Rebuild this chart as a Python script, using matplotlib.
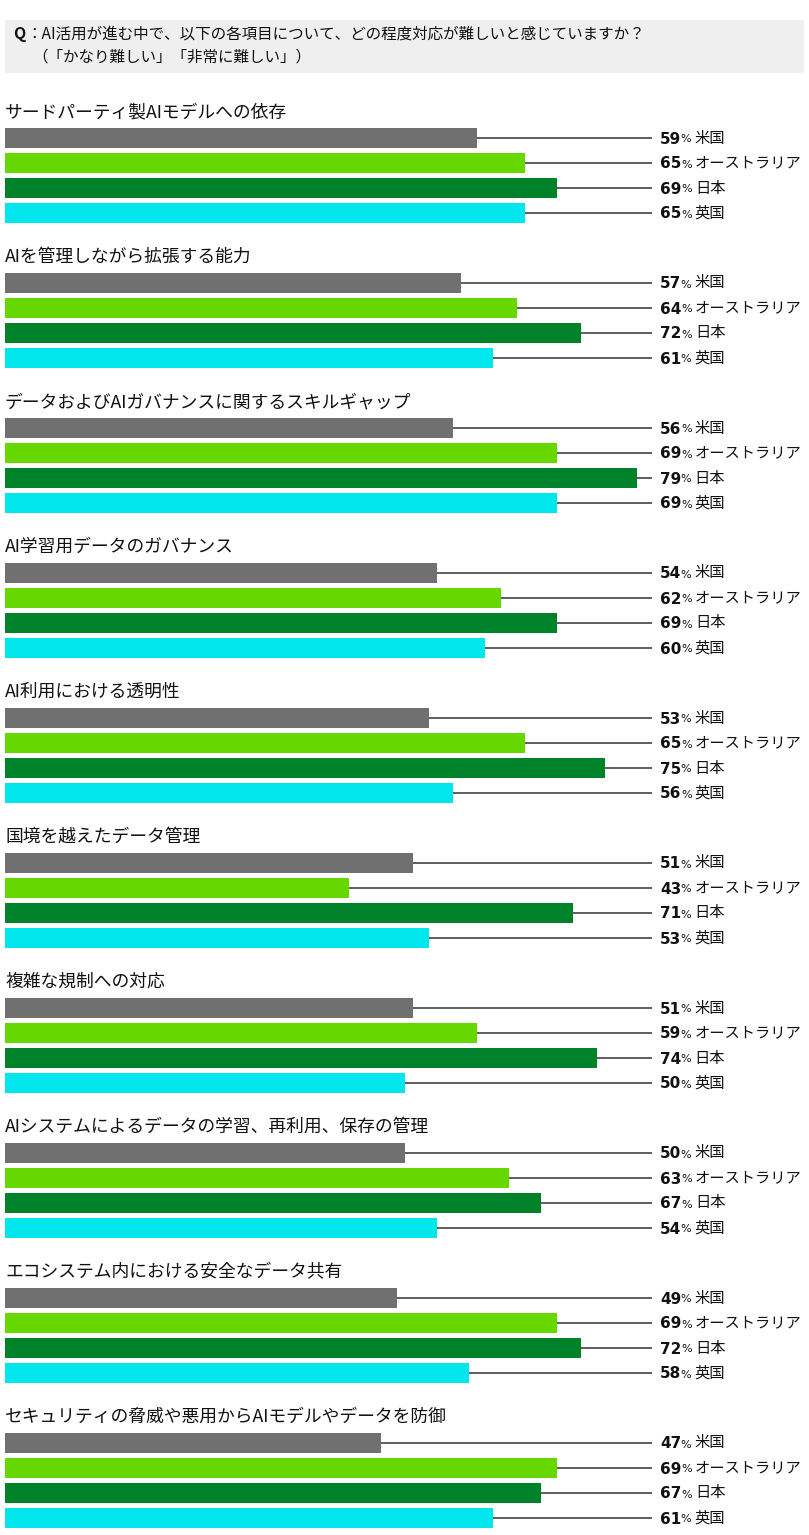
import matplotlib.pyplot as plt
from matplotlib.patches import Rectangle

plt.rcParams['font.family'] = ['Noto Sans CJK JP', 'DejaVu Sans']

# data
items = [
    "サードパーティ製AIモデルへの依存",
    "AIを管理しながら拡張する能力",
    "データおよびAIガバナンスに関するスキルギャップ",
    "AI学習用データのガバナンス",
    "AI利用における透明性",
    "国境を越えたデータ管理",
    "複雑な規制への対応",
    "AIシステムによるデータの学習、再利用、保存の管理",
    "エコシステム内における安全なデータ共有",
    "セキュリティの脅威や悪用からAIモデルやデータを防御",
]
countries = ["米国", "オーストラリア", "日本", "英国"]
us = [59, 57, 56, 54, 53, 51, 51, 50, 49, 47]
au = [65, 64, 69, 62, 65, 43, 59, 63, 69, 69]
jp = [69, 72, 79, 69, 75, 71, 74, 67, 72, 67]
uk = [65, 61, 69, 60, 56, 53, 50, 54, 58, 61]
colors = ["#707070", "#66d800", "#00822a", "#00e6ec"]

question = "AI活用が進む中で、以下の各項目について、どの程度対応が難しいと感じていますか？"
question2 = "（「かなり難しい」「非常に難しい」）"

W, H = 809, 1535
fig = plt.figure(figsize=(W / 100, H / 100), dpi=100)
ax = fig.add_axes([0, 0, 1, 1])
# x in percent (8 px per point, origin at 5 px), y in pixels
px = 8.0
x0 = 5
ax.set_xlim(-x0 / px, (W - x0) / px)
ax.set_ylim(H, 0)
ax.axis("off")

def xp(pix):
    return (pix - x0) / px

# header
ax.add_patch(Rectangle((xp(5), 20), (804 - 5) / px, 53, facecolor="#efefef", edgecolor="none"))
ax.text(xp(13), 34, "Q", fontsize=11.5, fontweight="bold", va="center", color="#111")
ax.text(xp(26), 34, "：" + question, fontsize=11.2, va="center", color="#111")
ax.text(xp(32), 57, question2, fontsize=11.2, va="center", color="#111")

series = [us, au, jp, uk]
line_end = xp(652)
group_top = 112
group_gap = 145
bar_h = 20
pitch = 25

fig.canvas.draw()
renderer = fig.canvas.get_renderer()
inv = ax.transData.inverted()

for i, item in enumerate(items):
    ty = group_top + i * group_gap
    ax.text(xp(5), ty, item, fontsize=12.8, va="center", color="#111")
    for j, vals in enumerate(series):
        cy = ty + 26 + j * pitch
        v = vals[i]
        ax.barh(cy, v, height=bar_h, left=0, color=colors[j], edgecolor="none")
        ax.plot([v, line_end], [cy, cy], color="#333333", lw=1.1, solid_capstyle="butt")
        t = ax.text(xp(660), cy + 1, str(v), fontsize=11, fontweight="bold",
                    va="center", color="#111", family="DejaVu Sans")
        bb = t.get_window_extent(renderer=renderer)
        xe = inv.transform((bb.x1, bb.y0))[0]
        t2 = ax.text(xe - 0.05, cy + 1.5, "%", fontsize=8, va="center", color="#111",
                     family="DejaVu Sans")
        bb2 = t2.get_window_extent(renderer=renderer)
        xe2 = inv.transform((bb2.x1, bb2.y0))[0]
        ax.text(xe2 + 0.4, cy, countries[j], fontsize=11, va="center", color="#111")

fig.savefig("out.png", dpi=100)
